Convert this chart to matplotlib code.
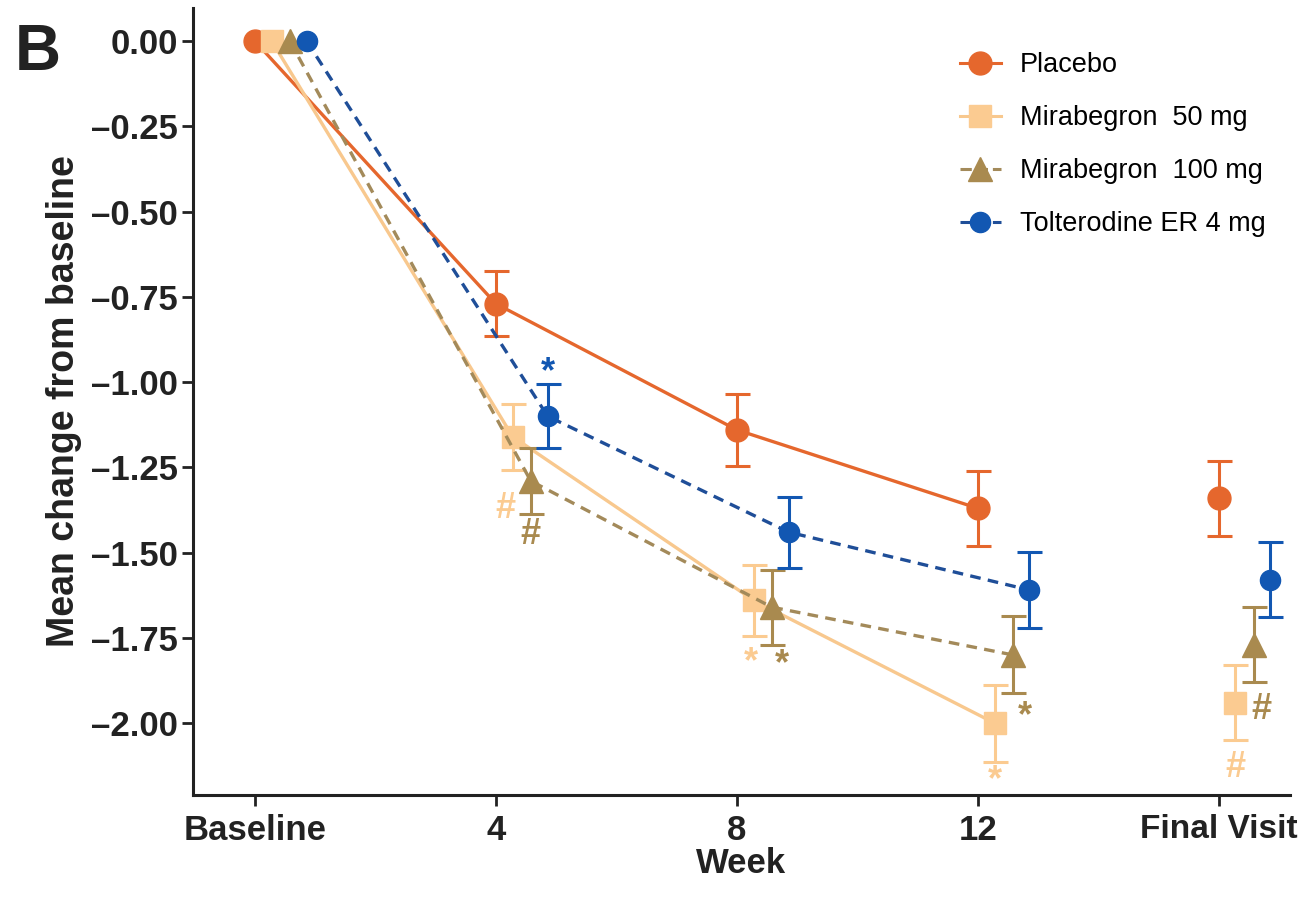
import matplotlib.pyplot as plt
import numpy as np

plt.rcParams['font.family'] = ['Liberation Sans', 'DejaVu Sans']

# visits on the x axis
visits = ['Baseline', '4', '8', '12', 'Final Visit']

# mean change from baseline and error bars
placebo = [0.00, -0.77, -1.14, -1.37, -1.34]
placebo_err = [0.0, 0.095, 0.105, 0.11, 0.11]
mira50 = [0.00, -1.16, -1.64, -2.00, -1.94]
mira50_err = [0.0, 0.097, 0.105, 0.113, 0.11]
mira100 = [0.00, -1.29, -1.66, -1.80, -1.77]
mira100_err = [0.0, 0.097, 0.11, 0.113, 0.11]
tolter = [0.00, -1.10, -1.44, -1.61, -1.58]
tolter_err = [0.0, 0.094, 0.104, 0.112, 0.11]

# significance marks: (series, visit index, symbol, dx px, dy px)
marks = [
    ('tol', 1, '*', 0, 44),
    ('m50', 1, '#', -7, -72),
    ('m100', 1, '#', 0, -54),
    ('m50', 2, '*', -3, -62),
    ('m100', 2, '*', 10, -58),
    ('m100', 3, '*', 12, -62),
    ('m50', 3, '*', 0, -58),
    ('m100', 4, '#', 8, -65),
    ('m50', 4, '#', 0, -65),
]

series = {
    'pla': dict(y=placebo, e=placebo_err, label='Placebo', color='#E5672D',
                lcolor='#E5672D', marker='o', ms=16.5, ls='-', dx=0.0),
    'm50': dict(y=mira50, e=mira50_err, label='Mirabegron  50 mg', color='#FBCB91',
                lcolor='#F8C88E', marker='s', ms=16, ls='-', dx=0.07),
    'm100': dict(y=mira100, e=mira100_err, label='Mirabegron  100 mg', color='#A98A4F',
                 lcolor='#A38A5A', marker='^', ms=17, ls='--', dx=0.145),
    'tol': dict(y=tolter, e=tolter_err, label='Tolterodine ER 4 mg', color='#1257B2',
                lcolor='#1F4E98', marker='o', ms=14.5, ls='--', dx=0.215),
}

fig = plt.figure(figsize=(13.04, 8.99), dpi=100)
ax = fig.add_axes([0.148, 0.1157, 0.841, 0.8753])

xs = np.arange(len(visits))
z = 2
handles = []
for key, s in series.items():
    x = xs + s['dx']
    y = np.array(s['y'])
    ax.plot(x[:4], y[:4], ls=s['ls'], color=s['lcolor'], lw=2.4, zorder=z,
            dashes=(3.2, 2.2) if s['ls'] == '--' else (None, None))
    ax.errorbar(x[1:], y[1:], yerr=np.array(s['e'])[1:], fmt='none',
                ecolor=s['color'], elinewidth=2.2, capsize=9, capthick=2.2, zorder=z + 0.5)
    ax.plot(x, y, ls='none', marker=s['marker'], ms=s['ms'], color=s['color'],
            mec=s['color'], zorder=z + 1)
    h, = ax.plot([], [], ls=s['ls'], color=s['lcolor'], lw=2.2, marker=s['marker'],
                 ms=s['ms'], mfc=s['color'], mec=s['color'], label=s['label'])
    handles.append(h)
    z += 2

for key, i, sym, dx, dy in marks:
    s = series[key]
    ax.annotate(sym, (xs[i] + s['dx'], s['y'][i]), xytext=(dx, dy),
                textcoords='offset pixels', ha='center', va='center',
                fontsize=26, fontweight='bold', color=s['color'], zorder=20)

ax.set_xlim(-0.257, 4.295)
ax.set_ylim(-2.211, 0.097)
ax.set_xticks(xs)
ax.set_xticklabels(visits)
yt = np.arange(0, -2.01, -0.25)
ax.set_yticks(yt)
ax.set_yticklabels(['%.2f' % v if v == 0 else '\u2013%.2f' % abs(v) for v in yt])
for lab in ax.get_xticklabels() + ax.get_yticklabels():
    lab.set_fontweight('bold')
    lab.set_fontsize(25)
    lab.set_color('#222222')
ax.get_xticklabels()[-1].set_fontsize(24)
ax.tick_params(width=2, length=8, colors='#222222')
ax.tick_params(axis='y', pad=3)
ax.tick_params(axis='x', pad=6)

for sp in ['top', 'right']:
    ax.spines[sp].set_visible(False)
for sp in ['left', 'bottom']:
    ax.spines[sp].set_linewidth(2.2)
    ax.spines[sp].set_color('#222222')

ax.set_xlabel('Week', fontsize=25, fontweight='bold', labelpad=0, color='#222222')
ax.set_ylabel('Mean change from baseline', fontsize=27, fontweight='bold', labelpad=6,
              color='#222222')

ax.legend(handles=handles, loc='upper right', bbox_to_anchor=(1.0, 0.975), frameon=False,
          fontsize=19.5, handlelength=1.5, labelspacing=1.0, handletextpad=0.7,
          borderaxespad=0.5)

fig.text(0.011, 0.922, 'B', fontsize=46, fontweight='bold', color='#222222')

fig.savefig('out.png', dpi=100)
